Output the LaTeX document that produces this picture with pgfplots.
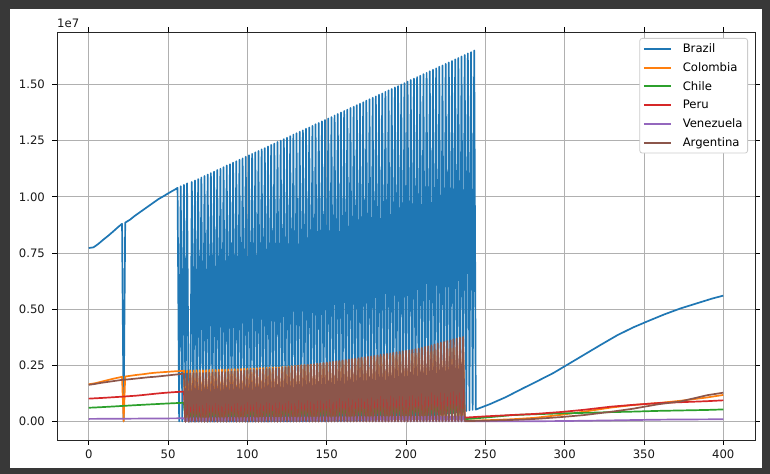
\documentclass[border=0pt]{standalone}
\usepackage{fontspec}
\setmainfont{DejaVu Sans}
\usepackage{pgfplots}
\usepackage{pgfplotstable}
\pgfplotsset{compat=1.18}
\usetikzlibrary{backgrounds}
\definecolor{c0}{HTML}{1F77B4}
\definecolor{c1}{HTML}{FF7F0E}
\definecolor{c2}{HTML}{2CA02C}
\definecolor{c3}{HTML}{D62728}
\definecolor{c4}{HTML}{9467BD}
\definecolor{c5}{HTML}{8C564B}
\definecolor{framec}{HTML}{383838}
\definecolor{gridc}{HTML}{B0B0B0}
\definecolor{legc}{HTML}{CCCCCC}

\pgfplotstableread{
x col chi per ven arg
0 0.1655 0.0610 0.1015 0.0113 0.163
4 0.170 0.0622 0.1030 0.0115 0.167
8 0.177 0.0636 0.1045 0.0117 0.172
12 0.184 0.0652 0.1062 0.0118 0.176
16 0.191 0.0668 0.1080 0.0120 0.180
20 0.197 0.0685 0.1098 0.0122 0.184
21 0.199 0.0689 0.1103 0.0122 0.185
22 0 0.0693 0.1108 0.0123 0.1855
23 0.200 0.0697 0.1113 0.0123 0.186
26 0.203 0.0710 0.1128 0.0124 0.188
30 0.207 0.0726 0.1148 0.0126 0.191
34 0.210 0.0741 0.1175 0.0128 0.194
38 0.214 0.0757 0.1205 0.0130 0.197
42 0.217 0.0771 0.1235 0.0131 0.199
46 0.219 0.0786 0.1262 0.0133 0.202
50 0.221 0.0800 0.1285 0.0135 0.205
54 0.223 0.0813 0.1305 0.0137 0.208
58 0.2245 0.0826 0.1322 0.0139 0.211
59 0.225 0.0828 0.1326 0.0139 0.212
60 0.226 0.0830 0.1330 0.0140 0.213
61 0 0 0 0 0
62 0.226 0.0834 0.1335 0.0141 0.214
63 0 0 0 0 0
64 0.227 0.0838 0.1341 0.0142 0.214
65 0 0 0 0 0
66 0.227 0.0842 0.1346 0.0143 0.215
67 0 0 0 0 0
68 0.228 0.0845 0.1352 0.0144 0.215
69 0 0 0 0 0
70 0.228 0.0849 0.1357 0.0145 0.216
71 0 0 0 0 0
72 0.228 0.0853 0.1362 0.0146 0.216
73 0 0 0 0 0
74 0.229 0.0857 0.1368 0.0147 0.217
75 0 0 0 0 0
76 0.229 0.0861 0.1373 0.0148 0.217
77 0 0 0 0 0
78 0.230 0.0865 0.1378 0.0149 0.218
79 0 0 0 0 0
80 0.230 0.0868 0.1384 0.0150 0.218
81 0 0 0 0 0
82 0.230 0.0872 0.1389 0.0151 0.219
83 0 0 0 0 0
84 0.231 0.0876 0.1395 0.0152 0.220
85 0 0 0 0 0
86 0.231 0.0880 0.1400 0.0153 0.220
87 0 0 0 0 0
88 0.232 0.0886 0.1409 0.0154 0.221
89 0 0 0 0 0
90 0.232 0.0893 0.1418 0.0155 0.222
91 0 0 0 0 0
92 0.233 0.0899 0.1426 0.0156 0.223
93 0 0 0 0 0
94 0.233 0.0906 0.1435 0.0157 0.224
95 0 0 0 0 0
96 0.234 0.0912 0.1444 0.0158 0.225
97 0 0 0 0 0
98 0.235 0.0919 0.1453 0.0159 0.226
99 0 0 0 0 0
100 0.235 0.0925 0.1462 0.0160 0.227
101 0 0.0001 0 0 0
102 0.236 0.0932 0.1471 0.0161 0.228
103 0 0.0001 0.0001 0 0
104 0.236 0.0938 0.1479 0.0162 0.229
105 0 0.0001 0.0001 0 0
106 0.237 0.0945 0.1488 0.0163 0.230
107 0 0.0001 0.0001 0 0
108 0.238 0.0951 0.1497 0.0164 0.231
109 0 0.0001 0.0001 0 0
110 0.238 0.0958 0.1506 0.0165 0.232
111 0 0.0002 0.0001 0 0
112 0.239 0.0964 0.1515 0.0166 0.233
113 0 0.0002 0.0001 0 0
114 0.239 0.0971 0.1524 0.0167 0.234
115 0 0.0002 0.0001 0 0
116 0.240 0.0977 0.1532 0.0168 0.235
117 0 0.0002 0.0001 0 0
118 0.240 0.0984 0.1541 0.0169 0.236
119 0 0.0003 0.0001 0 0
120 0.241 0.0990 0.1550 0.0170 0.237
121 0.0001 0.0003 0.0002 0 0.0001
122 0.242 0.0997 0.1559 0.0171 0.239
123 0.0001 0.0004 0.0002 0 0.0001
124 0.243 0.1004 0.1567 0.0172 0.240
125 0.0001 0.0004 0.0003 0 0.0001
126 0.245 0.1011 0.1576 0.0173 0.242
127 0.0001 0.0004 0.0004 0 0.0001
128 0.246 0.1019 0.1584 0.0174 0.244
129 0.0001 0.0005 0.0004 0 0.0001
130 0.247 0.1026 0.1593 0.0175 0.245
131 0.0002 0.0005 0.0005 0 0.0001
132 0.248 0.1033 0.1601 0.0176 0.247
133 0.0002 0.0005 0.0006 0 0.0001
134 0.250 0.1040 0.1610 0.0177 0.249
135 0.0002 0.0006 0.0006 0 0.0001
136 0.251 0.1047 0.1619 0.0178 0.250
137 0.0002 0.0006 0.0007 0 0.0001
138 0.252 0.1054 0.1627 0.0179 0.252
139 0.0002 0.0006 0.0008 0 0.0001
140 0.253 0.1061 0.1636 0.0180 0.253
141 0.0003 0.0007 0.0009 0 0.0001
142 0.254 0.1069 0.1644 0.0181 0.255
143 0.0003 0.0007 0.0009 0 0.0001
144 0.256 0.1076 0.1653 0.0182 0.257
145 0.0003 0.0007 0.0010 0 0.0001
146 0.257 0.1083 0.1661 0.0183 0.258
147 0.0003 0.0008 0.0011 0 0.0001
148 0.258 0.1090 0.1670 0.0184 0.260
149 0.0003 0.0009 0.0013 0 0.0001
150 0.260 0.1096 0.1678 0.0185 0.262
151 0.0004 0.0009 0.0015 0 0.0002
152 0.262 0.1101 0.1685 0.0186 0.264
153 0.0004 0.0010 0.0017 0 0.0002
154 0.263 0.1107 0.1693 0.0187 0.266
155 0.0004 0.0010 0.0018 0 0.0002
156 0.265 0.1113 0.1700 0.0188 0.268
157 0.0004 0.0011 0.0020 0 0.0002
158 0.267 0.1118 0.1708 0.0189 0.270
159 0.0004 0.0012 0.0022 0 0.0002
160 0.269 0.1124 0.1715 0.0190 0.272
161 0.0005 0.0012 0.0024 0 0.0002
162 0.270 0.1129 0.1723 0.0191 0.274
163 0.0005 0.0013 0.0026 0 0.0002
164 0.272 0.1135 0.1730 0.0192 0.276
165 0.0005 0.0013 0.0028 0 0.0002
166 0.274 0.1141 0.1738 0.0193 0.278
167 0.0005 0.0014 0.0029 0 0.0002
168 0.276 0.1146 0.1745 0.0194 0.280
169 0.0005 0.0014 0.0031 0 0.0002
170 0.277 0.1152 0.1753 0.0195 0.282
171 0.0006 0.0015 0.0033 0 0.0003
172 0.279 0.1158 0.1760 0.0196 0.284
173 0.0006 0.0015 0.0035 0 0.0003
174 0.281 0.1163 0.1768 0.0197 0.286
175 0.0006 0.0016 0.0037 0 0.0003
176 0.283 0.1169 0.1775 0.0198 0.288
177 0.0006 0.0016 0.0038 0 0.0003
178 0.284 0.1174 0.1783 0.0199 0.290
179 0.0006 0.0017 0.0040 0 0.0003
180 0.286 0.1180 0.1790 0.0200 0.292
181 0.0007 0.0019 0.0043 0 0.0004
182 0.287 0.1186 0.1795 0.0201 0.294
183 0.0007 0.0020 0.0046 0 0.0004
184 0.289 0.1191 0.1800 0.0202 0.297
185 0.0008 0.0022 0.0050 0 0.0004
186 0.290 0.1197 0.1805 0.0203 0.299
187 0.0008 0.0024 0.0053 0 0.0004
188 0.291 0.1203 0.1810 0.0204 0.301
189 0.0009 0.0025 0.0056 0 0.0004
190 0.293 0.1209 0.1815 0.0205 0.303
191 0.0009 0.0027 0.0059 0 0.0005
192 0.294 0.1214 0.1820 0.0206 0.306
193 0.0010 0.0028 0.0062 0 0.0005
194 0.296 0.1220 0.1825 0.0207 0.308
195 0.0010 0.0030 0.0065 0 0.0005
196 0.297 0.1226 0.1830 0.0208 0.310
197 0.0011 0.0031 0.0069 0 0.0005
198 0.298 0.1231 0.1835 0.0209 0.313
199 0.0011 0.0033 0.0072 0 0.0005
200 0.300 0.1237 0.1840 0.0210 0.315
201 0.0012 0.0034 0.0075 0 0.0006
202 0.301 0.1243 0.1845 0.0211 0.317
203 0.0012 0.0036 0.0078 0 0.0006
204 0.302 0.1249 0.1850 0.0212 0.319
205 0.0013 0.0038 0.0081 0 0.0006
206 0.304 0.1254 0.1855 0.0213 0.322
207 0.0013 0.0039 0.0084 0 0.0006
208 0.305 0.1260 0.1860 0.0214 0.324
209 0.0014 0.0042 0.0088 0 0.0006
210 0.307 0.1267 0.1866 0.0215 0.328
211 0.0015 0.0045 0.0092 0 0.0008
212 0.309 0.1274 0.1871 0.0216 0.332
213 0.0016 0.0048 0.0096 0 0.0008
214 0.311 0.1281 0.1877 0.0217 0.335
215 0.0017 0.0051 0.0100 0 0.0008
216 0.313 0.1289 0.1883 0.0218 0.339
217 0.0018 0.0054 0.0104 0 0.0008
218 0.315 0.1296 0.1889 0.0219 0.343
219 0.0019 0.0057 0.0108 0 0.0008
220 0.317 0.1303 0.1894 0.0220 0.347
221 0.0020 0.0061 0.0112 0 0.0010
222 0.319 0.1310 0.1900 0.0221 0.351
223 0.0021 0.0064 0.0117 0 0.0010
224 0.321 0.1317 0.1906 0.0222 0.354
225 0.0022 0.0067 0.0121 0 0.0010
226 0.323 0.1324 0.1911 0.0223 0.358
227 0.0023 0.0070 0.0125 0 0.0010
228 0.325 0.1331 0.1917 0.0224 0.362
229 0.0024 0.0073 0.0129 0 0.0010
230 0.327 0.1339 0.1923 0.0225 0.366
231 0.0025 0.0076 0.0133 0 0.0013
232 0.329 0.1346 0.1929 0.0226 0.369
233 0.0026 0.0079 0.0137 0 0.0014
234 0.331 0.1353 0.1934 0.0227 0.373
235 0.0027 0.0082 0.0141 0 0.0015
236 0.333 0.1360 0.1940 0.0228 0.377
237 0.0030 0.0100 0.0170 0.0002 0.0017
251 0.0054 0.0180 0.0230 0.0003 0.0032
267 0.0098 0.0282 0.0288 0.0006 0.0067
281 0.0160 0.0321 0.0334 0.0010 0.0111
298 0.0296 0.0359 0.0422 0.0017 0.0196
312 0.0433 0.0381 0.0517 0.0030 0.0282
329 0.0616 0.0414 0.0657 0.0046 0.0428
343 0.0729 0.0437 0.0738 0.0062 0.0565
359 0.0820 0.0470 0.0818 0.0079 0.0765
373 0.0920 0.0489 0.0856 0.0087 0.0890
390 0.1070 0.0512 0.0903 0.0093 0.1170
400 0.1180 0.0535 0.0940 0.0098 0.1280
}\others

\begin{document}
\fontsize{11.7}{14}\selectfont
\begin{tikzpicture}
\begin{axis}[name=ax, scale only axis, width=698bp, height=408bp,
  xmin=-20, xmax=420, ymin=-0.0826, ymax=1.7336,
  xtick={0,50,100,150,200,250,300,350,400},
  ytick={0,0.25,0.5,0.75,1,1.25,1.5},
  yticklabel style={/pgf/number format/fixed, /pgf/number format/fixed zerofill,
    /pgf/number format/precision=2, /tikz/xshift=-3.5bp},
  xticklabel style={/tikz/yshift=-1bp},
  /pgf/number format/assume math mode=true,
  tick align=outside, major tick length=4.5bp,
  every tick/.style={black, line width=0.9bp},
  grid=major, major grid style={gridc, line width=0.9bp},
  axis line style={black!85, line width=0.9bp},
  tick label style={font=\fontsize{11.7}{14}\selectfont, text=black!90},
  legend cell align=left,
  legend style={at={(1,1)}, anchor=north east, xshift=-7bp, yshift=-6bp,
    draw=legc, line width=0.8bp, fill=white, rounded corners=2.5bp,
    font=\fontsize{11.7}{14}\selectfont, row sep=4.3bp, inner xsep=3bp, inner ysep=3bp,
    /tikz/every odd column/.append style={column sep=9bp}},
  legend image code/.code={\draw[#1, line width=2bp] (0bp,0bp) -- (27bp,0bp);},
  every axis plot/.append style={line width=1.7bp, line join=round, no marks},
]
\addplot[c0] coordinates {(0,0.772) (3,0.775) (6,0.790) (9,0.808) (12,0.825) (15,0.843) (18,0.862) (21,0.880) (22,0) (23,0.885) (26,0.898) (29,0.915) (32,0.930) (35,0.945) (38,0.960) (41,0.975) (44,0.990) (47,1.002) (50,1.015) (53,1.027) (55,1.035)
(56,1.040) (57,0) (58,1.047) (59,0) (60,1.053) (61,0) (62,1.060) (63,0) (64,0) (65,1.066) (66,0) (67,1.073) (68,0) (69,1.079) (70,0) (71,1.086) (72,0) (73,1.093) (74,0) (75,1.099) (76,0) (77,1.106) (78,0) (79,1.112) (80,0) (81,1.119) (82,0) (83,1.125) (84,0) (85,1.132) (86,0) (87,1.139) (88,0) (89,1.145) (90,0) (91,1.152) (92,0) (93,1.158) (94,0) (95,1.165) (96,0) (97,1.171) (98,0) (99,1.178) (100,0) (101,1.185) (102,0) (103,1.191) (104,0) (105,1.198) (106,0) (107,1.204) (108,0) (109,1.211) (110,0) (111,1.217) (112,0) (113,1.224) (114,0) (115,1.231) (116,0.0003) (117,1.237) (118,0.0004) (119,1.244) (120,0.0005) (121,1.250) (122,0.0006) (123,1.257) (124,0.0007) (125,1.263) (126,0.0008) (127,1.270) (128,0.0010) (129,1.277) (130,0.0011) (131,1.283) (132,0.0012) (133,1.290) (134,0.0014) (135,1.296) (136,0.0016) (137,1.303) (138,0.0018) (139,1.309) (140,0.0019) (141,1.316) (142,0.0020) (143,1.323) (144,0.0021) (145,1.329) (146,0.0022) (147,1.336) (148,0.0024) (149,1.342) (150,0.0026) (151,1.349) (152,0.0028) (153,1.355) (154,0.0030) (155,1.362) (156,0.0033) (157,1.369) (158,0.0037) (159,1.375) (160,0.0040) (161,1.382) (162,0.0043) (163,1.388) (164,0.0046) (165,1.395) (166,0.0049) (167,1.401) (168,0.0053) (169,1.408) (170,0.0058) (171,1.414) (172,0.0061) (173,1.421) (174,0.0066) (175,1.428) (176,0.0071) (177,1.434) (178,0.0074) (179,1.441) (180,0.0079) (181,1.447) (182,0.0085) (183,1.454) (184,0.0092) (185,1.460) (186,0.0097) (187,1.467) (188,0.0105) (189,1.474) (190,0.0115) (191,1.480) (192,0.0125) (193,1.487) (194,0.0135) (195,1.493) (196,0.0146) (197,1.500) (198,0.0156) (199,1.506) (200,0.0163) (201,1.513) (202,0.0169) (203,1.520) (204,0.0178) (205,1.526) (206,0.0189) (207,1.533) (208,0.0203) (209,1.539) (210,0.0218) (211,1.546) (212,0.0233) (213,1.552) (214,0.0241) (215,1.559) (216,0.0255) (217,1.566) (218,0.0271) (219,1.572) (220,0.0291) (221,1.579) (222,0.0310) (223,1.585) (224,0.0330) (225,1.592) (226,0.0348) (227,1.598) (228,0.0363) (229,1.605) (230,0.0374) (231,1.612) (232,0.0392) (233,1.618) (234,0.0412) (235,1.625) (236,0.0438) (237,1.631) (238,0.0466) (239,1.638) (240,0.0491) (241,1.644) (242,0.0514) (243,1.651)
(244,0.0530) (253,0.0773) (263,0.1086) (273,0.1448) (283,0.1800) (293,0.2160) (303,0.2580) (313,0.3000) (323,0.3420) (333,0.3830) (343,0.4180) (353,0.4480) (363,0.4770) (373,0.5030) (383,0.5250) (393,0.5470) (400,0.5600)};
\addlegendentry{Brazil}
\addplot[c1] table[x=x, y=col] {\others};
\addlegendentry{Colombia}
\addplot[c2] table[x=x, y=chi] {\others};
\addlegendentry{Chile}
\addplot[c3] table[x=x, y=per] {\others};
\addlegendentry{Peru}
\addplot[c4] table[x=x, y=ven] {\others};
\addlegendentry{Venezuela}
\addplot[c5] table[x=x, y=arg] {\others};
\addlegendentry{Argentina}
\end{axis}
\node[anchor=south west, inner sep=0pt, text=black!90] at ([yshift=4bp]ax.north west) {1e7};
\begin{scope}[on background layer]
\fill[framec] ([xshift=-57bp,yshift=-34bp]ax.south west) rectangle ++(770bp,474bp);
\fill[white] ([xshift=-47bp,yshift=-28bp]ax.south west) rectangle ++(752bp,459bp);
\end{scope}
\end{tikzpicture}
\end{document}
